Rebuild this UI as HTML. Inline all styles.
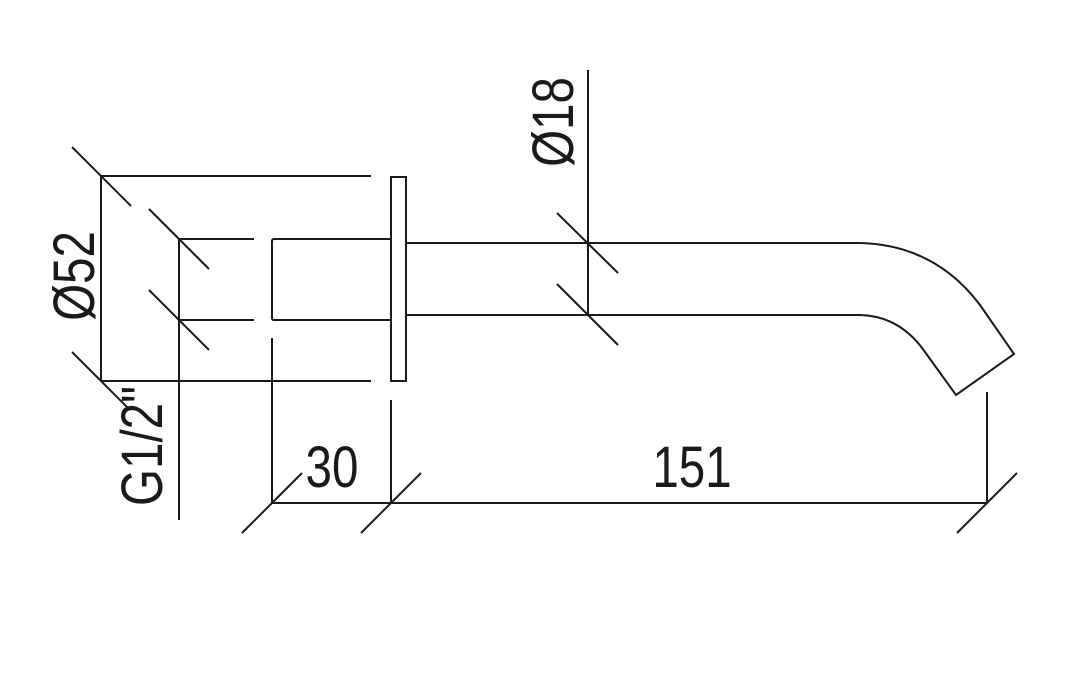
<!DOCTYPE html>
<html><head><style>html,body{margin:0;padding:0;background:#fff}svg{display:block}</style></head>
<body>
<svg width="1084" height="673" viewBox="0 0 1084 673" xmlns="http://www.w3.org/2000/svg">
<g stroke="#1a1a1a" stroke-width="2" fill="none">
<!-- Ø52 -->
<line x1="101" y1="176" x2="101" y2="381"/>
<line x1="101" y1="176" x2="371" y2="176"/>
<line x1="101" y1="381" x2="371" y2="381"/>
<line x1="72" y1="147" x2="131" y2="206"/>
<line x1="72" y1="352" x2="130" y2="410"/>
<!-- flange -->
<rect x="391" y="177" width="15" height="204"/>
<!-- G1/2 -->
<line x1="179" y1="239" x2="179" y2="520"/>
<line x1="179" y1="239" x2="254" y2="239"/>
<line x1="179" y1="320" x2="254" y2="320"/>
<line x1="149" y1="209" x2="209" y2="269"/>
<line x1="149" y1="290" x2="209" y2="350"/>
<!-- nut -->
<path d="M391 239 H274 Q272 239 272 241 V318 Q272 320 274 320 H391"/>
<!-- 30 / 151 dims -->
<line x1="272" y1="338" x2="272" y2="503"/>
<line x1="391" y1="400" x2="391" y2="503"/>
<line x1="272" y1="503" x2="987" y2="503"/>
<line x1="242" y1="533" x2="302" y2="473"/>
<line x1="361" y1="533" x2="421" y2="473"/>
<line x1="987" y1="392" x2="987" y2="503"/>
<line x1="957" y1="533" x2="1017" y2="473"/>
<!-- pipe -->
<path d="M406 243 H860 Q935 245 980 305 L1014 354 L956 395 L925 352 Q900 316 860 315 H406"/>
<!-- Ø18 -->
<line x1="588" y1="70" x2="588" y2="315"/>
<line x1="557" y1="213" x2="618" y2="273"/>
<line x1="557" y1="284" x2="618" y2="345"/>
</g>
<g font-family="Liberation Sans, sans-serif" font-size="58" fill="#1a1a1a">
<text transform="translate(692,487) scale(0.82,1)" text-anchor="middle">151</text>
<text transform="translate(332,487) scale(0.82,1)" text-anchor="middle">30</text>
<text transform="translate(573,122) rotate(-90) scale(0.82,1)" text-anchor="middle">Ø18</text>
<text transform="translate(94,276) rotate(-90) scale(0.82,1)" text-anchor="middle">Ø52</text>
<text transform="translate(162,446) rotate(-90) scale(0.82,1)" text-anchor="middle">G1/2"</text>
</g>
</svg>
</body></html>
